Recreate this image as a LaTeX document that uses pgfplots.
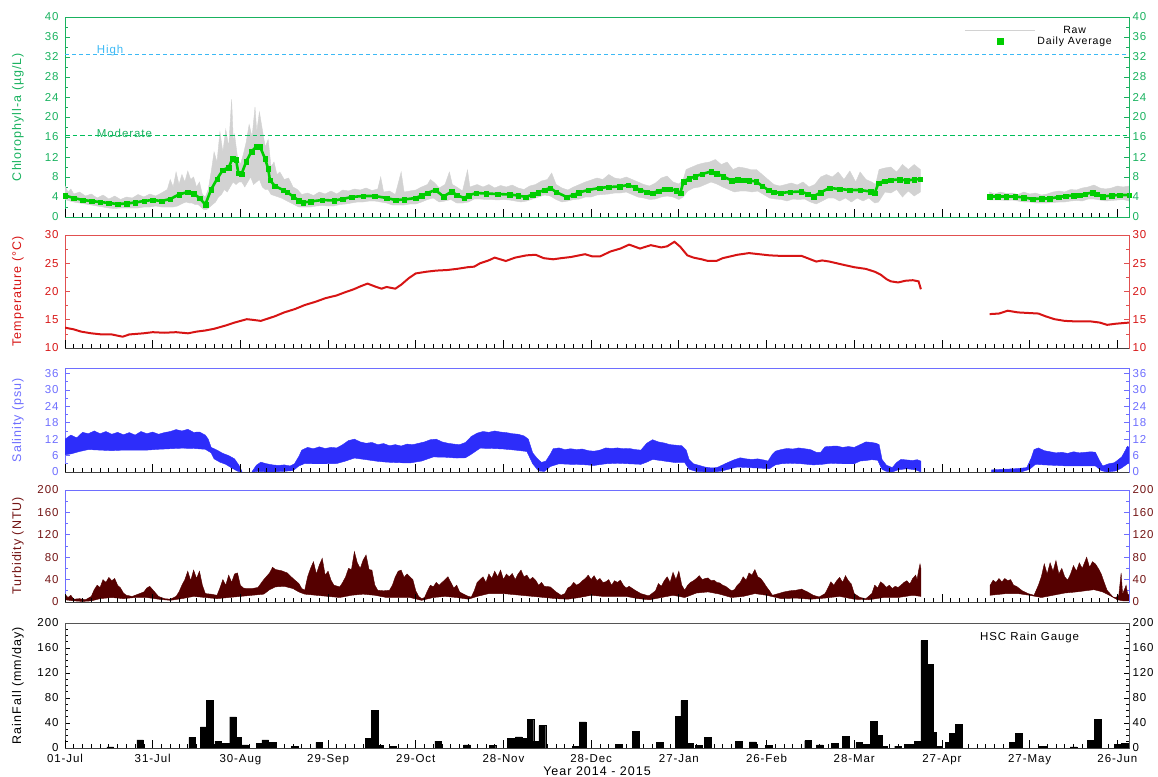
\documentclass[border=0pt]{standalone}
\usepackage{pgfplots}
\pgfplotsset{compat=1.18}
\usepackage{fontspec}
\setmainfont{Liberation Sans}[LetterSpace=8]
\definecolor{chlg}{RGB}{25,178,95}
\definecolor{modg}{RGB}{0,190,90}
\definecolor{avgg}{RGB}{0,205,0}
\definecolor{rawg}{RGB}{210,210,210}
\definecolor{hib}{RGB}{60,185,245}
\definecolor{tred}{RGB}{215,20,20}
\definecolor{tframe}{RGB}{225,80,80}
\definecolor{sblue}{RGB}{45,45,250}
\definecolor{sframe}{RGB}{110,110,255}
\definecolor{turb}{RGB}{85,0,0}
\definecolor{turbl}{RGB}{115,20,20}
\definecolor{rframe}{RGB}{85,85,85}

\pgfplotsset{
  base/.style={scale only axis, width=1064pt, xmin=0, xmax=364, anchor=south west,
    /pgf/number format/assume math mode=true,
    tick label style={font=\fontsize{11.5}{13}\selectfont},
    label style={font=\fontsize{12.5}{14}\selectfont},
  },
  lpanel/.style={base, xtick=\empty, ytick pos=both, yticklabel pos=left, tick align=inside,
    major tick length=5pt, minor tick length=3pt, minor y tick num=1,
    yticklabel style={xshift=-3pt},
    ylabel style={at={(axis description cs:-0.0442,0.5)}, anchor=center},
    axis line style={line width=0.8pt},
  },
  rpanel/.style={base, axis y line*=right, axis x line*=bottom,
    xtick={0,30,...,360}, minor x tick num=9, xticklabels={},
    tick align=inside, major tick length=8pt, minor tick length=4.5pt,
    xtick style={black, line width=0.8pt}, ytick style={draw=none},
    every outer x axis line/.append style={-}, every outer y axis line/.append style={-},
    axis line style={line width=0.8pt},
    x axis line style={black!75},
  },
  avgstyle/.style={avgg, line width=2.6pt, mark=square*, mark size=2.3pt,
    mark options={solid, line width=0.2pt, fill=avgg, draw=avgg}, forget plot},
}

\begin{document}
\begin{tikzpicture}
%================ Chlorophyll =================
\begin{axis}[lpanel, at={(65pt,-217pt)}, height=200pt, ymin=0, ymax=40, ytick={0,4,...,40},
  axis line style={chlg}, ytick style={chlg, line width=0.7pt}, yticklabel style={text=chlg},
  ylabel={Chlorophyll-a (µg/L)}, ylabel style={text=chlg},
  legend style={at={(axis description cs:1,1)}, anchor=north east, draw=none, fill=none,
    font=\fontsize{10.5}{12}\selectfont, xshift=-12pt, yshift=-5pt, row sep=-2pt},
  legend cell align=center]
\addlegendimage{legend image code/.code={\draw[rawg, line width=1.2pt] (0pt,0pt) -- (70pt,0pt);}}
\addlegendentry{Raw}
\addlegendimage{legend image code/.code={\path[draw=none,fill=none] (0pt,0pt) rectangle (70pt,0.1pt); \fill[avgg] (32pt,-3pt) rectangle (38pt,3pt);}}
\addlegendentry{Daily Average}
% raw band segment 1
\addplot[fill=rawg, draw=rawg, line width=0.4pt, forget plot] coordinates {
(0,6.2)(1,5.0)(2,5.6)(3,4.6)(5,5.0)(7,4.2)(9,4.6)(11,3.8)(13,4.4)(15,3.6)(17,4.2)(19,3.5)(21,4.0)(23,3.8)(25,4.5)(27,4.0)(29,4.6)(31,4.2)(33,4.8)(35,5.5)(36,7.5)(37,6.0)(38,9.0)(39,6.5)(40,8.5)(41,7.0)(42,9.2)(43,7.5)(44,8.0)(45,6.0)(46,7.0)(47,4.5)(48,4.0)(49,5.5)(50,9.0)(51,13.0)(52,11.0)(53,17.0)(54,13.0)(55,17.5)(56,14.0)(57,23.5)(57.6,15.0)(58,16.5)(59,12.0)(60,10.5)(61,12.5)(62,15.0)(63,18.5)(64,16.0)(65,22.0)(65.6,17.0)(66.5,21.0)(67.5,17.5)(68.5,14.0)(69.5,15.5)(70.5,10.0)(71.5,11.0)(72.5,8.5)(73.5,9.0)(75,7.5)(76.5,7.8)(78,6.0)(79.5,5.5)(81,4.5)(83,4.8)(85,4.3)(87,5.0)(89,4.6)(91,5.2)(93,4.6)(95,5.4)(97,5.2)(99,5.6)(101,5.4)(103,5.8)(105,5.3)(107,5.6)(108,8.0)(109,5.0)(111,5.2)(113,4.5)(115,9.0)(116,5.0)(118,5.2)(120,5.4)(122,6.0)(124,6.5)(125,7.5)(126.5,6.8)(128,5.8)(130,6.5)(131.5,9.0)(132.5,6.5)(134,6.0)(136,5.2)(137.7,9.4)(138.5,6.0)(141,6.5)(143,6.0)(145,6.5)(147,5.8)(149,6.3)(151,6.0)(153,6.4)(155,5.8)(157,5.5)(159,6.2)(161,6.5)(163,7.2)(165,7.5)(166.5,8.8)(168,6.5)(170,5.8)(172,5.4)(174,6.0)(176,6.5)(178,7.0)(180,7.4)(182,7.8)(184,7.5)(186,8.5)(188,7.8)(190,7.6)(192,8.0)(194,7.5)(196,7.0)(198,6.5)(200,6.2)(202,6.8)(204,7.8)(206,8.2)(208,7.0)(210,6.6)(211.5,7.5)(212.5,9.5)(214.5,10.0)(216.5,10.5)(218.5,10.8)(220.5,11.0)(222.5,11.5)(224.5,10.5)(226.5,11.0)(228.5,9.5)(230.5,10.0)(232.5,9.8)(234.5,9.5)(236.5,9.5)(238.5,8.5)(240.5,7.5)(242.5,6.5)(244.5,6.2)(246.5,6.5)(248.5,6.8)(250.5,6.4)(252.5,7.0)(254.5,6.0)(256.5,6.5)(258.5,8.0)(260.5,8.5)(262.5,8.0)(264.5,9.0)(266.5,7.5)(268.5,9.2)(270.5,7.0)(272,9.0)(274,7.5)(276,7.0)(277.3,6.5)(278.5,9.5)(280.5,9.8)(282.5,10.0)(284.5,9.0)(286.5,10.5)(288.5,9.5)(290.5,10.5)(292.6,9.5)
(292.6,5.0)(290.5,4.2)(288.5,5.2)(286.5,4.0)(284.5,5.5)(282.5,4.8)(280.5,5.0)(278.3,3.0)(277,2.8)(275,3.8)(273,3.2)(271,3.8)(269,3.0)(267,3.8)(265,3.2)(263,3.8)(261,3.8)(259,3.2)(257,2.6)(255,3.0)(253,3.6)(251,3.5)(249,3.6)(247,3.2)(245,3.5)(243,3.6)(241,3.8)(239,4.5)(237,5.2)(235,5.0)(233,5.2)(231,5.2)(229,5.0)(227,5.5)(225,6.0)(223,6.6)(221,7.0)(219,6.5)(217,6.0)(215,5.8)(213,5.2)(211.5,4.0)(210,3.5)(208,4.0)(206,4.2)(204,4.0)(202,3.6)(200,3.5)(198,3.8)(196,4.0)(194,4.5)(192,5.0)(190,4.8)(188,4.8)(186,4.6)(184,4.5)(182,4.4)(180,4.0)(178,4.0)(176,3.6)(174,3.5)(172,3.2)(170,3.0)(168,3.5)(166,4.2)(164,4.4)(162,4.0)(160,3.6)(158,3.2)(156,3.0)(154,3.2)(152,3.4)(150,3.5)(148,3.4)(146,3.5)(144,3.5)(142,3.6)(140,3.6)(138,3.0)(136,2.8)(134,2.8)(132,3.5)(130,3.2)(128,3.0)(126,3.8)(124,3.5)(122,3.0)(120,2.6)(118,2.6)(116,2.4)(114,2.4)(112,2.4)(110,2.8)(108,3.0)(106,3.2)(104,3.2)(102,3.0)(100,3.0)(98,2.8)(96,2.6)(94,2.5)(92,2.2)(90,2.2)(88,2.3)(86,2.2)(84,2.0)(82,2.0)(80,2.0)(78,2.6)(76,3.2)(74,3.8)(72,4.2)(70.5,4.5)(69.5,5.5)(68.5,5.5)(67.5,6.0)(66.5,7.5)(65.5,7.0)(64.5,6.5)(63.5,8.0)(62.5,7.0)(61.5,6.0)(60.5,7.0)(59.5,7.0)(58.5,6.5)(57.5,7.0)(56.5,6.0)(55.5,5.0)(54.5,5.5)(53.5,4.5)(52.5,4.0)(51.5,3.0)(50.5,2.5)(49.5,2.0)(48.5,1.5)(47.5,1.5)(46.5,2.0)(45.5,2.5)(44.5,2.5)(43.5,2.8)(42.5,2.8)(41.5,3.0)(40.5,2.8)(39.5,2.5)(38.5,2.2)(37,2.0)(35,2.0)(33,2.0)(31,2.2)(29,2.0)(27,2.0)(25,1.8)(23,1.8)(21,1.8)(19,1.8)(17,1.7)(15,1.8)(13,2.0)(11,2.2)(9,2.4)(7,2.6)(5,2.8)(3,3.0)(1,3.3)(0,3.5)} -- cycle;
% raw band segment 2
\addplot[fill=rawg, draw=rawg, line width=0.4pt, forget plot] coordinates {
(316.3,5.0)(318,4.6)(320,5.0)(322,4.7)(324,4.8)(326,4.5)(328,5.0)(330,4.6)(332,4.8)(334,4.4)(336,4.6)(338,5.0)(340,5.2)(342,5.0)(344,5.5)(346,5.4)(348,5.8)(350,6.0)(351,6.2)(352,6.4)(354,5.8)(356,5.6)(358,5.8)(360,6.2)(362,6.0)(364,6.2)
(364,3.2)(362,3.5)(360,3.4)(358,3.3)(356,3.2)(354,3.4)(352,3.6)(350,3.6)(348,3.2)(346,3.3)(344,3.2)(342,3.0)(340,3.0)(338,2.9)(336,2.8)(334,2.8)(332,2.8)(330,3.0)(328,3.0)(326,3.2)(324,3.4)(322,3.3)(320,3.4)(318,3.4)(316.3,3.4)} -- cycle;
% reference lines
\addplot[draw=hib, line width=1pt, dash pattern=on 4pt off 3pt, forget plot] coordinates {(0,32.6)(364,32.6)};
\addplot[draw=modg, line width=1.3pt, dash pattern=on 4.5pt off 3pt, forget plot] coordinates {(0,16.3)(364,16.3)};
\node[hib, anchor=south west, inner sep=1pt, font=\fontsize{11.5}{13}\selectfont] at (axis cs:10.5,31.9) {High};
\node[chlg, anchor=south west, inner sep=1pt, font=\fontsize{11.5}{13}\selectfont] at (axis cs:10.5,15.6) {Moderate};
% daily average
\addplot[avgstyle] coordinates {
(0,4.3)(3,3.8)(6,3.4)(9,3.2)(12,3.0)(15,2.8)(18,2.6)(21,2.7)(24,2.9)(27,3.2)(30,3.4)(33,3.2)(36,3.6)(39,4.5)(42,5.0)(44,4.7)(46,3.8)(48,2.5)(50,5.5)(52,7.6)(54,9.4)(56,9.9)(57.3,11.7)(58.5,11.5)(59.3,8.8)(60.4,8.6)(62,11.1)(63.8,13.1)(65.5,14.1)(66.7,14.1)(68.4,11.7)(69.5,9.7)(70.1,7.4)(71.8,6.2)(74.6,5.4)(76,5.0)(78,4.1)(80,3.3)(81.5,2.9)(84,3.1)(88,3.4)(92,3.3)(95,3.6)(98,4.0)(102,4.2)(106,4.2)(110,3.8)(113,3.4)(116,3.5)(120,3.8)(122,4.3)(124,4.8)(126.7,5.4)(129.5,4.1)(132.3,5.1)(134,4.4)(136.5,3.8)(138,4.3)(140.7,4.8)(144,4.7)(148,4.6)(152,4.5)(155,4.3)(157.6,4.0)(160,4.5)(161.8,4.9)(164,5.4)(166,5.8)(168,5.0)(171.6,4.0)(174,4.4)(175.8,4.9)(179,5.4)(182.8,5.8)(186,6.0)(189.8,6.1)(192.6,6.4)(195,5.9)(196.8,5.4)(199,5.0)(201,4.8)(203,5.2)(205.2,5.6)(207,5.6)(209,5.3)(210.5,4.8)(211.6,7.1)(213.5,7.7)(215.5,8.1)(218,8.6)(221,9.1)(223,8.7)(225.2,8.1)(228,7.3)(230,7.5)(232.2,7.4)(234,7.3)(236.4,7.1)(238.5,6.2)(240.6,5.4)(242.5,5.0)(244.8,4.8)(248,5.0)(251.8,5.1)(254,4.6)(256,4.1)(258.5,4.9)(261.5,5.8)(265,5.6)(268.5,5.4)(272,5.4)(275.5,5.1)(277,4.8)(278.3,6.8)(280.3,7.2)(282.5,7.4)(285.5,7.5)(288,7.3)(290.5,7.5)(292.5,7.6)};
\addplot[avgstyle] coordinates {
(316.3,4.1)(319,4.1)(322,4.1)(325,4.1)(328,3.9)(331,3.6)(334,3.7)(336.8,3.7)(340,4.0)(342.4,4.2)(345,4.3)(347,4.4)(349,4.6)(351.5,4.9)(353,4.6)(355,4.1)(358,4.3)(360.7,4.4)(364,4.4)};
\end{axis}
\begin{axis}[rpanel, at={(65pt,-217pt)}, height=200pt, ymin=0, ymax=40, ytick={0,4,...,40},
  y axis line style={chlg}, x axis line style={chlg}, yticklabel style={text=chlg}]
\end{axis}

%================ Temperature =================
\begin{axis}[lpanel, at={(65pt,-348pt)}, height=113pt, ymin=10, ymax=30, ytick={10,15,...,30},
  axis line style={tframe}, ytick style={tframe, line width=0.7pt}, yticklabel style={text=tred},
  ylabel={Temperature (°C)}, ylabel style={text=tred}]
\addplot[tred, line width=2pt] coordinates {
(0,13.6)(3,13.3)(5.5,12.9)(9,12.6)(12.6,12.4)(16,12.4)(19.7,12.0)(22,12.4)(26.8,12.6)(30,12.8)(33.9,12.7)(38,12.8)(42.1,12.6)(45,12.9)(48,13.1)(51,13.4)(55.1,14.0)(58,14.5)(62.2,15.1)(64,15.0)(67,14.8)(71.7,15.6)(75,16.3)(78.7,16.9)(82,17.6)(85.8,18.2)(89,18.8)(92.9,19.3)(96,19.9)(98.8,20.4)(101,20.9)(103.5,21.4)(106,20.9)(108.3,20.5)(110,20.8)(113,20.5)(115,21.2)(117.7,22.4)(120,23.2)(123.6,23.5)(127,23.7)(130.7,23.8)(134,24.0)(137.8,24.3)(140,24.4)(142,25.0)(144.9,25.5)(147,26.0)(150.8,25.4)(154,26.0)(157.9,26.4)(161,26.5)(163.8,25.9)(167,25.7)(169.7,25.9)(173,26.1)(177.9,26.6)(180.5,26.2)(183,26.2)(186.7,27.1)(190,27.6)(193,28.3)(196.7,27.6)(198.5,27.9)(200.4,28.2)(204,27.8)(206,28.0)(208.5,28.8)(210.5,27.9)(212.9,26.4)(215,26.0)(217.8,25.7)(220,25.4)(222.8,25.4)(225,25.9)(230,26.5)(234,26.8)(237.5,26.6)(241,26.4)(245,26.3)(249,26.3)(252,26.3)(254.5,25.8)(257,25.3)(259,25.5)(261.5,25.3)(264,25.0)(266.5,24.7)(270,24.3)(274,24.0)(277,23.5)(279,23.0)(281,22.2)(282.5,21.8)(285,21.6)(287.5,21.9)(290,22.0)(292,21.8)(292.8,20.4)};
\addplot[tred, line width=2pt] coordinates {
(316.3,16.0)(319.5,16.1)(322.5,16.6)(326,16.3)(329.5,16.2)(333,16.1)(335.5,15.6)(338.5,15.1)(342,14.8)(346,14.7)(351,14.7)(354,14.5)(356.5,14.1)(359.5,14.3)(364,14.5)};
\end{axis}
\begin{axis}[rpanel, at={(65pt,-348pt)}, height=113pt, ymin=10, ymax=30, ytick={10,15,...,30},
  y axis line style={tframe}, yticklabel style={text=tred}]
\end{axis}

%================ Salinity =================
\begin{axis}[lpanel, at={(65pt,-472pt)}, height=104pt, ymin=0, ymax=38, ytick={0,6,...,36},
  axis line style={sframe}, ytick style={sframe, line width=0.7pt}, yticklabel style={text=sframe},
  ylabel={Salinity (psu)}, ylabel style={text=sframe}]
\addplot[fill=sblue, draw=sblue, line width=0.4pt] coordinates {
(0,12.0)(2,13.5)(4,12.5)(6,14.5)(8,14.0)(10,15.0)(12,14.0)(14,14.8)(16,13.8)(18,14.5)(20,13.6)(22,14.4)(24,13.5)(26,14.8)(28,14.0)(30,14.6)(32,13.8)(34,14.4)(36,14.8)(38,15.5)(40,15.0)(42,15.6)(44,14.5)(46,14.6)(48,13.5)(49,12.0)(50,9.0)(52,8.0)(54,6.8)(56,6.0)(58,4.8)(59.5,2.5)(60.5,0.3)
(60.5,0)(59,0.3)(57,1.5)(55,2.8)(53,3.6)(51,4.8)(50,7.0)(48,8.3)(44,8.6)(40,8.7)(36,8.5)(32,8.3)(28,8.0)(24,8.0)(20,8.0)(16,7.8)(12,8.0)(8,8.2)(5,7.5)(2,6.6)(0,6.3)} -- cycle;
\addplot[fill=sblue, draw=sblue, line width=0.4pt] coordinates {
(64,0.2)(65.5,2.5)(67,3.6)(69,3.0)(71,2.6)(73,2.4)(75,2.6)(77,2.2)(78.5,3.0)(80,5.7)(81,8.0)(83,9.0)(85,8.5)(87,9.2)(89,8.6)(91,9.0)(93,8.8)(95,10.0)(97,11.5)(99,12.0)(101,11.0)(103,10.5)(105,10.8)(107,10.0)(109,10.4)(111,9.6)(113,10.0)(115,9.5)(117,10.2)(119,10.0)(121,10.5)(123,11.0)(125,11.8)(127,12.0)(129,11.0)(131,10.5)(133,10.2)(135,10.0)(137,10.8)(139,13.0)(141,14.2)(143,14.8)(145,14.5)(147,15.0)(149,14.6)(151,14.4)(153,14.0)(155,13.8)(157,13.2)(158.5,12.0)(160,7.0)(161.5,5.0)(163,3.5)(164.5,4.0)(166,6.5)(167,8.5)(169,8.8)(171,8.2)(173,8.5)(175,8.2)(177,8.4)(179,7.8)(181,7.6)(183,8.0)(185,8.8)(187,8.6)(189,8.8)(191,8.5)(193,8.6)(195,8.2)(197,8.0)(199,10.5)(201,11.8)(203,11.0)(205,10.6)(207,10.0)(209,9.8)(211,9.6)(212.5,8.0)(213.5,4.6)(215,3.0)(217,2.4)(219,1.8)(221,1.5)(223,1.6)(225,2.6)(227,3.6)(229,4.5)(231,5.2)(233,4.8)(235,4.6)(237,4.8)(239,4.4)(240.5,4.0)(242,6.5)(243,7.6)(245,8.2)(247,8.6)(249,8.4)(251,8.8)(253,8.5)(255,8.2)(257,7.2)(258.5,7.2)(260,9.2)(262,9.4)(264,9.5)(266,9.0)(268,9.3)(270,9.0)(272,10.0)(274,11.0)(276,10.8)(277.5,10.5)(278.5,10.0)(279.5,4.6)(281,2.5)(283,1.6)(284.5,3.5)(286,4.6)(288,4.4)(290,4.2)(291.5,4.5)(292.8,4.0)
(292.8,0)(291,0.8)(288,1.2)(285,0.8)(283,0)(281,0.2)(279.5,1.0)(278,4.3)(276,4.5)(274,4.2)(272,4.0)(270,3.0)(266,3.0)(262,3.2)(259,2.8)(256,2.6)(252,3.0)(248,3.2)(245,3.0)(243,2.6)(241,1.2)(238,1.4)(234,1.6)(230,1.8)(227,1.0)(224,0.2)(220,0)(216,0.2)(213.5,1.0)(212,3.4)(209,3.4)(205,4.0)(201,4.6)(199,3.6)(197,2.8)(193,3.0)(189,3.2)(185,3.0)(181,2.4)(177,2.7)(173,2.8)(169,3.0)(166,2.0)(164,0.2)(162,0.4)(160,3.0)(158,7.5)(154,8.0)(150,8.4)(146,8.6)(142,8.7)(139,6.5)(137,5.2)(134,5.1)(130,5.4)(126,5.5)(122,4.0)(118,3.3)(114,3.4)(110,3.6)(107,3.9)(103,4.5)(99,5.1)(96,4.0)(93,3.1)(89,3.0)(85,3.0)(82,3.1)(80,2.2)(78,0.5)(74,0.2)(70,0)(66,0.2)(64,0)} -- cycle;
\addplot[fill=sblue, draw=sblue, line width=0.4pt] coordinates {
(317,0.8)(321,1.0)(325,1.2)(329,1.6)(330.5,5.0)(331.5,8.2)(333,8.8)(335,7.8)(337,7.4)(339,7.0)(341,7.2)(343,6.8)(345,7.4)(347,7.0)(349,7.2)(351,7.4)(352.5,7.2)(354,4.0)(355,2.2)(357,3.0)(359,3.4)(361.5,5.5)(363.5,9.4)(364,9.0)
(364,3.4)(361.5,1.5)(359.5,0.4)(356.5,0)(354.5,0.5)(352.5,2.2)(347,2.2)(343,2.2)(339,2.4)(335,2.6)(332,2.8)(330,1.0)(327,0)(321,0)(317,0)} -- cycle;
\end{axis}
\begin{axis}[rpanel, at={(65pt,-472pt)}, height=104pt, ymin=0, ymax=38, ytick={0,6,...,36},
  y axis line style={sframe}, yticklabel style={text=sframe}]
\end{axis}

%================ Turbidity =================
\begin{axis}[lpanel, at={(65pt,-602pt)}, height=112pt, ymin=0, ymax=200, ytick={0,40,...,200},
  axis line style={sframe}, ytick style={sframe, line width=0.7pt}, yticklabel style={text=turbl},
  ylabel={Turbidity (NTU)}, ylabel style={text=turbl}]
\addplot[fill=turb, draw=turb, line width=0.4pt] coordinates {
(0,14)(1,8)(2,12)(3,5)(5,6)(7,4)(9,10)(10,22)(11,30)(12,26)(13,40)(14,35)(15,44)(16,38)(17,42)(18,30)(19,25)(20,16)(21,12)(23,10)(25,14)(27,18)(28,25)(29,28)(30,22)(31,16)(32,10)(34,6)(36,5)(38,10)(39,18)(40,30)(41,40)(42,55)(43,38)(44,57)(45,42)(46,55)(47,30)(48,15)(50,14)(52,12)(53,25)(54,40)(55,30)(56,48)(57,35)(58,50)(59,52)(60,30)(61,25)(62,24)(64,24)(66,26)(68,40)(70,52)(71,62)(72,58)(74,56)(76,52)(78,42)(80,33)(81,24)(82,21)(83,45)(84,60)(85,72)(86,50)(87,66)(88,78)(89,48)(90,55)(91,39)(92,30)(94,27)(95,35)(96,45)(97,60)(98,58)(99,90)(100,70)(101,60)(102,75)(103,84)(104,58)(105,57)(106,30)(107,21)(109,20)(111,21)(112,30)(113,45)(114,55)(115,57)(116,44)(117,50)(118,45)(119,40)(120,20)(121,10)(122,6)(123,8)(124,20)(125,30)(126,27)(127,35)(128,30)(130,40)(131,45)(132,35)(133,25)(134,30)(135,18)(136,15)(138,10)(139,9)(140,20)(141,35)(142,40)(143,45)(144,35)(145,50)(146,42)(147,55)(148,45)(149,57)(150,40)(151,50)(152,45)(153,51)(154,40)(155,50)(156,57)(157,45)(158,48)(159,40)(160,44)(161,39)(162,30)(163,35)(164,28)(166,27)(168,18)(169.7,12)(171,15)(172,25)(173,28)(174,35)(175,30)(176,33)(177,38)(178,42)(179,48)(180,40)(181,47)(182,38)(183,42)(184,35)(185,36)(186,40)(187,30)(188,38)(189,35)(190,39)(191,30)(192,25)(193,28)(195,21)(197,15)(199,12)(200,12)(202,20)(203,33)(204,28)(205,38)(206,45)(207,35)(208,53)(209,40)(210,55)(211,30)(212,21)(213,30)(214,35)(215,38)(216,42)(217,47)(218,40)(219,42)(220,43)(221,38)(222,39)(223,35)(224,34)(225,30)(226,28)(227,24)(228,20)(229,22)(230,30)(231,35)(232,45)(233,39)(234,52)(235,48)(236,58)(237,45)(238,42)(239,35)(240,27)(241,20)(242,12)(244,15)(246,18)(248,20)(250,21)(252,23)(254,18)(256,12)(258,9)(260,15)(261,25)(262,36)(263,30)(264,38)(265,44)(266,35)(267,47)(268,38)(269,32)(270,15)(272,8)(274,6)(276,15)(277,30)(278,25)(279,36)(280,32)(281,26)(282,30)(283,24)(284,28)(285,26)(286,30)(287,35)(288,38)(289,32)(290,42)(291,48)(291.5,40)(292,56)(292.5,68)(292.8,60)
(292.8,10)(290,12)(285,8)(280,8)(275,4)(270,5)(265,10)(260,7)(255,5)(250,7)(245,6)(240,12)(236,15)(232,10)(228,8)(224,14)(220,18)(216,16)(212,8)(208,12)(204,8)(200,4)(196,6)(192,10)(188,10)(184,10)(180,12)(176,8)(172,5)(168,6)(164,8)(160,10)(156,12)(150,15)(145,15)(141,10)(138,5)(134,8)(130,10)(126,8)(122,3)(118,8)(114,8)(110,8)(106,12)(102,14)(98,12)(94,8)(90,10)(86,12)(82,14)(80,18)(78,24)(75,28)(72,27)(70,22)(68,14)(64,12)(60,10)(56,8)(52,6)(48,8)(44,10)(40,6)(36,3)(32,5)(28,8)(24,8)(20,6)(16,8)(12,6)(9,2)(6,1)(3,2)(0,4)} -- cycle;
\addplot[fill=turb, draw=turb, line width=0.4pt] coordinates {
(316.5,30)(317.5,39)(318.5,35)(319.5,42)(320.5,36)(321.5,42)(322.5,38)(323.5,40)(324.5,30)(325.5,28)(326.5,24)(327.5,20)(329.5,15)(331.5,12)(333,30)(334,45)(335,68)(336,50)(337,70)(338,55)(339,74)(340,50)(341,60)(342,45)(343,39)(344,50)(345,65)(346,55)(347,70)(348,60)(349.5,80)(350.5,62)(351.5,72)(352.5,68)(353.5,60)(354.5,50)(355.5,35)(356.5,21)(357.5,15)(358.5,9)(359.5,8)(360.5,12)(361.3,52)(361.8,14)(363,30)(363.5,15)(364,12)
(364,2)(362,2)(360,4)(358,10)(355,18)(352,22)(349,20)(346,18)(342,16)(338,12)(334,8)(330,12)(326,15)(322,15)(316.5,12)} -- cycle;
\end{axis}
\begin{axis}[rpanel, at={(65pt,-602pt)}, height=112pt, ymin=0, ymax=200, ytick={0,40,...,200},
  y axis line style={sframe}, yticklabel style={text=turbl}]
\end{axis}

%================ Rainfall =================
\begin{axis}[lpanel, at={(65pt,-748pt)}, height=125pt, ymin=0, ymax=200, ytick={0,40,...,200}, minor y tick num=3,
  axis line style={rframe}, ytick style={black, line width=0.7pt}, yticklabel style={text=black},
  ylabel={RainFall (mm/day)}]
\addplot[ybar, bar width=2.3, fill=black, draw=black] coordinates {
(15.5,2)(25.7,13)(43.5,17)(47.5,34)(49.5,76)(52.4,11)(55,8)(57.5,50)(59.2,17)(61.4,5)(66.7,7)(68.5,13)(71,9)(78.6,3)(87,9)(104,15)(106,60)(107.8,4)(112,3)(127.7,11)(137.5,5)(146.2,4)(152.5,16)(155.2,18)(157.3,15)(159.2,46)(161.2,11)(163.3,36)(174.8,3)(177,42)
(189.5,6)(195.3,27)(203.5,9)(209.9,51)(211.8,76)(213.7,7)(216.8,4)(219.8,17)(230.5,11)(235.2,10)(240.7,4)(254.2,12)(258.2,5)(263.4,7)(267,19)
(271.7,8.6)(273.9,6)(276.6,43)(278.5,20)(280,3)(285,3)(288.4,6)(290.2,6)(291.8,11)(293.9,172)(295.8,134)(296.8,25)(298.7,3)(302.3,8.6)(303.6,24)(305.8,38)(324.3,8.6)(326.2,23)(334.4,3)(345,2)(350.8,12)(353.4,46)(360.1,6)(362.5,8)};
\node[font=\fontsize{11.5}{13}\selectfont] at (axis cs:330,177) {HSC Rain Gauge};
\end{axis}
\begin{axis}[rpanel, at={(65pt,-748pt)}, height=125pt, ymin=0, ymax=200, ytick={0,40,...,200},
  y axis line style={rframe}, yticklabel style={text=black},
  xticklabels={01-Jul,31-Jul,30-Aug,29-Sep,29-Oct,28-Nov,28-Dec,27-Jan,26-Feb,28-Mar,27-Apr,27-May,26-Jun},
  xticklabel style={yshift=-3pt},
  xlabel={Year 2014 - 2015}, xlabel style={at={(axis description cs:0.5,0)}, anchor=center, yshift=-23pt}]
\end{axis}

\pgfresetboundingbox
\path[use as bounding box] (0pt,0pt) rectangle (1158pt,-776pt);
\end{tikzpicture}
\end{document}
